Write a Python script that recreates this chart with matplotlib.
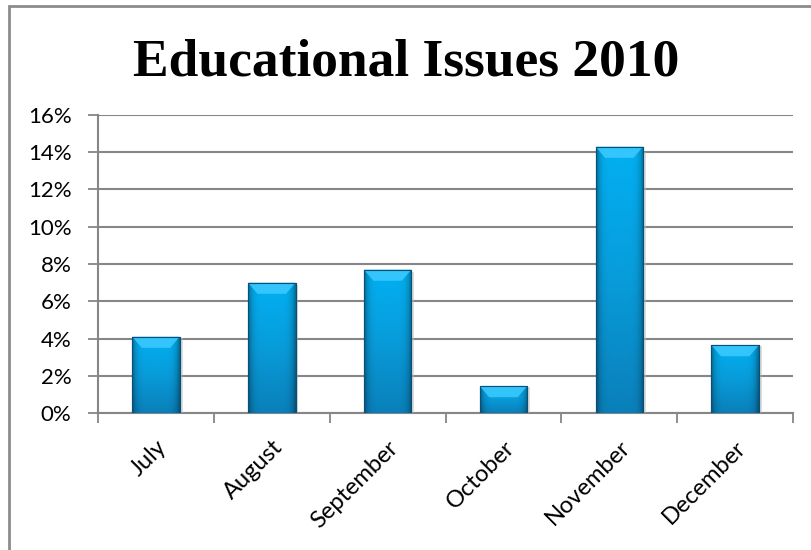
import matplotlib.pyplot as plt
import numpy as np
from matplotlib.colors import LinearSegmentedColormap
from matplotlib.patches import Polygon, Rectangle
from matplotlib.ticker import PercentFormatter

# Data
months = ["July", "August", "September", "October", "November", "December"]
shares = [4.1, 7.0, 7.7, 1.45, 14.3, 3.65]  # percent
y_ticks = [0, 2, 4, 6, 8, 10, 12, 14, 16]

grid_col = "#868686"
bar_w = 0.41
lbl_font = ["Lato", "DejaVu Sans"]

fig = plt.figure(figsize=(8.12, 5.5), dpi=100)
ax = fig.add_axes([0.1207, 0.249, 0.856, 0.542])

# chart frame
fig.patches.append(Rectangle((9 / 812, -0.05), 1.1, 1 - 6 / 550 + 0.05,
                             transform=fig.transFigure, fill=False,
                             edgecolor="#8c8c8c", linewidth=2))

x = np.arange(len(months))
bars = ax.bar(x, shares, width=bar_w, color="#0A9AD8", edgecolor="#0b4f78",
              linewidth=0.8, zorder=3)

# gradient fill + bevel for each bar
grad = LinearSegmentedColormap.from_list("g", ["#0a80ba", "#089cda", "#02b0f2"])
vert = np.linspace(0, 1, 64).reshape(-1, 1)
horiz = 1 - 0.35 * np.abs(np.linspace(-1, 1, 32)) ** 6
for b in bars:
    x0, w, h = b.get_x(), b.get_width(), b.get_height()
    # soft shadow on the right
    ax.add_patch(Rectangle((x0 + w, 0), 0.025, h * 0.98, facecolor="#bcbcbc",
                           edgecolor="none", alpha=0.5, zorder=2.9))
    img = grad(vert)[:, :, :3] * horiz.reshape(1, -1, 1)
    im = ax.imshow(img, extent=[x0, x0 + w, 0, h], origin="lower",
                   aspect="auto", zorder=3.5)
    im.set_clip_path(b)
    bev = 0.6  # bevel depth in %
    dx = w * 0.2
    top = Polygon([[x0, h], [x0 + w, h], [x0 + w - dx, h - bev], [x0 + dx, h - bev]],
                  closed=True, facecolor="#3ccaff", edgecolor="none", alpha=0.85, zorder=4)
    ax.add_patch(top)
    ax.add_patch(Rectangle((x0, 0), w, h, fill=False, edgecolor="#0b4f78",
                           linewidth=0.8, zorder=4.5))

ax.set_xlim(-0.5, len(months) - 0.5)
ax.set_ylim(0, 16)
ax.set_yticks(y_ticks)
ax.yaxis.set_major_formatter(PercentFormatter(decimals=0))
ax.yaxis.grid(True, color=grid_col, linewidth=1.5, zorder=0)
ax.set_axisbelow(True)

ax.set_xticks(x)
ax.set_xticklabels(months, rotation=45, ha="right", rotation_mode="anchor",
                   fontsize=17, family=lbl_font)
ax.set_xticks(np.arange(-0.5, len(months)), minor=True)
ax.tick_params(axis="x", which="major", length=0, pad=17)
ax.tick_params(axis="x", which="minor", length=7, color=grid_col, width=1.3)
ax.tick_params(axis="y", length=7, color=grid_col, width=1.3, labelsize=16, pad=12)
for lbl in ax.get_yticklabels():
    lbl.set_family(lbl_font)

for s in ["top", "right"]:
    ax.spines[s].set_visible(False)
for s in ["left", "bottom"]:
    ax.spines[s].set_color(grid_col)
    ax.spines[s].set_linewidth(1.5)

fig.text(0.5, 1 - 62 / 550, "Educational Issues 2010", ha="center", va="center",
         fontsize=38.5, fontweight="bold", family=["Liberation Serif", "DejaVu Serif"])

fig.savefig("out.png", dpi=100)
